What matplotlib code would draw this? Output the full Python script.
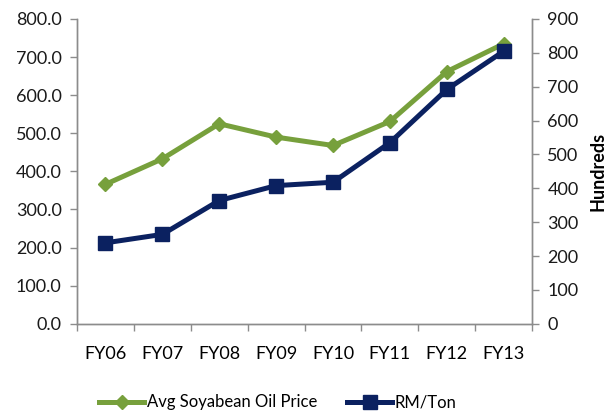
import matplotlib.pyplot as plt
import numpy as np

plt.rcParams['font.family'] = ['Lato', 'DejaVu Sans']

years = ['FY06', 'FY07', 'FY08', 'FY09', 'FY10', 'FY11', 'FY12', 'FY13']
soy_price = [366, 433, 525, 490, 468, 531, 662, 735]
rm_ton = [239, 264, 364, 408, 418, 535, 692, 805]

green = '#77A03C'
navy = '#0B2160'
grey = '#8C8C8C'

fig = plt.figure(figsize=(6.11, 4.13), dpi=100)
ax = fig.add_axes([0.126, 0.216, 0.745, 0.738])
ax2 = ax.twinx()

x = np.arange(len(years))
ax.plot(x, soy_price, color=green, lw=3.6, marker='D', ms=7.5,
        label='Avg Soyabean Oil Price')
ax2.plot(x, rm_ton, color=navy, lw=3.6, marker='s', ms=10, label='RM/Ton')

ax.set_xlim(-0.5, len(years) - 0.5)
ax.set_ylim(0, 800)
ax2.set_ylim(0, 900)
ax.set_yticks(np.arange(0, 801, 100))
ax.set_yticklabels([f'{v:.1f}' for v in range(0, 801, 100)])
ax2.set_yticks(np.arange(0, 901, 100))

# category labels centred, ticks on the boundaries
ax.set_xticks(x)
ax.set_xticklabels(years)
ax.set_xticks(np.arange(-0.5, len(years)), minor=True)
ax.tick_params(axis='x', which='major', length=0, pad=16, labelsize=13)
ax.tick_params(axis='x', which='minor', length=5, color=grey, width=1)

for a in (ax, ax2):
    a.spines['top'].set_visible(False)
    for s in ('left', 'right', 'bottom'):
        a.spines[s].set_color(grey)
        a.spines[s].set_linewidth(1)
    a.tick_params(axis='y', length=5, color=grey, width=1, labelsize=13,
                  labelcolor='#1a1a1a', pad=6)

ax2.set_ylabel('Hundreds', fontsize=13, fontweight='bold', labelpad=8)

h1, l1 = ax.get_legend_handles_labels()
h2, l2 = ax2.get_legend_handles_labels()
fig.legend(h1 + h2, l1 + l2, loc='lower center', ncol=2, frameon=False,
           fontsize=12, bbox_to_anchor=(0.455, -0.03), handlelength=2.7,
           columnspacing=1.8, handletextpad=0.15)

fig.savefig('out.png', dpi=100)
